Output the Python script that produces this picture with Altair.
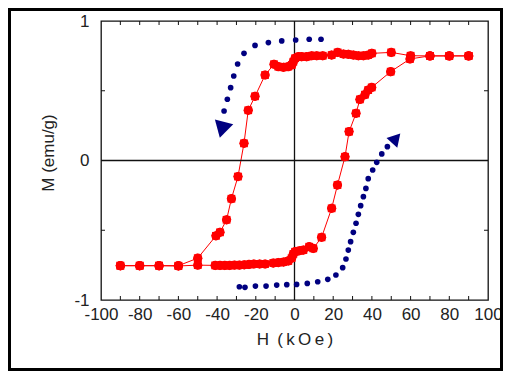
import altair as alt
import pandas as pd

# ---- data ----
desc_x = [90, 80, 70, 60, 50, 40, 38.1, 35.6, 33.0, 30.4, 27.8, 25.3, 22.3, 19.2, 14.6, 11.5, 8.9, 6.3,
          3.7, 2.0, 0.3, -0.6, -1.4, -3.2, -5.7, -8.4, -10.6, -15.2, -20.4, -23.9, -26.1, -29.2, -32.6,
          -35.1, -38.5, -40.6, -50, -60, -70, -80, -90]
desc_y = [0.75, 0.75, 0.75, 0.751, 0.775, 0.768, 0.756, 0.751, 0.751, 0.756, 0.761, 0.763, 0.775, 0.756,
          0.751, 0.751, 0.751, 0.744, 0.744, 0.744, 0.733, 0.708, 0.685, 0.673, 0.668, 0.673, 0.69, 0.613,
          0.46, 0.36, 0.123, -0.115, -0.274, -0.425, -0.515, -0.54, -0.70, -0.754, -0.754, -0.754, -0.754]
asc_x = [-90, -80, -70, -60, -50, -41, -38.5, -36, -33.5, -31, -28.5, -26, -23.5, -21, -18, -15.2, -11,
         -8.4, -5.7, -3.2, -1.5, -0.6, 0.3, 2.5, 4.6, 7.6, 9.7, 14.0, 19.2, 22.2, 26.1, 28.2, 31.8, 33.8,
         36.4, 38.1, 39.9, 49.7, 59.7, 70, 80, 90]
asc_y = [-0.754, -0.754, -0.754, -0.756, -0.75, -0.752, -0.752, -0.752, -0.752, -0.75, -0.75, -0.748,
         -0.745, -0.742, -0.742, -0.742, -0.735, -0.732, -0.728, -0.72, -0.70, -0.67, -0.654, -0.647,
         -0.642, -0.618, -0.63, -0.551, -0.343, -0.176, 0.027, 0.207, 0.338, 0.438, 0.472, 0.505, 0.524,
         0.637, 0.728, 0.75, 0.75, 0.75]

blue_up_x = [13.7, 7.6, 0.6, -6.6, -13.5, -20.4, -26.1, -29.4, -31.4, -33.0, -34.7, -36.4]
blue_up_y = [0.869, 0.869, 0.864, 0.857, 0.845, 0.825, 0.768, 0.692, 0.606, 0.522, 0.439, 0.355]
blue_lo_x = [-28.5, -25.6, -20.2, -14.7, -9.2, -4.0, 1.1, 6.6, 12.0, 17.2, 21.4, 24.9, 26.6, 27.8, 29.0,
             30.4, 31.8, 33.0, 34.2, 35.6, 36.9, 38.1, 40.4, 42.5, 45.1, 48.0]
blue_lo_y = [-0.905, -0.909, -0.9, -0.9, -0.893, -0.89, -0.888, -0.881, -0.869, -0.852, -0.821, -0.768,
             -0.706, -0.642, -0.582, -0.515, -0.45, -0.386, -0.324, -0.259, -0.2, -0.13, -0.068, -0.013,
             0.047, 0.099]

arrow_down = {"H": [-37.5], "M": [0.22]}
arrow_up = {"H": [52.5], "M": [0.16]}

x_ticks = list(range(-90, 100, 10))
y_ticks = [-0.5, 0.5]
x_labels = list(range(-100, 101, 20))
y_labels = [-1, 0, 1]

FONT = "Liberation Sans, Arial, sans-serif"
RED = "#ff0000"
NAVY = "#000080"
W, H = 387, 279

loop = pd.DataFrame({
    "H": desc_x + asc_x,
    "M": desc_y + asc_y,
    "order": list(range(len(desc_x) + len(asc_x))),
})
blue = pd.DataFrame({"H": blue_up_x + blue_lo_x, "M": blue_up_y + blue_lo_y})

xs = alt.Scale(domain=[-100, 100], nice=False, zero=False)
ys = alt.Scale(domain=[-1, 1], nice=False, zero=False)

xaxis = alt.Axis(
    values=x_labels, labelExpr="'' + datum.value", labelOverlap=False, labelFlush=False,
    labelSeparation=0, labelBound=False,
    title="H\u2009 (\u2009k\u2009O\u2009e\u2009)", ticks=False, tickSize=0, grid=False,
    domain=False, labelPadding=6,
    titleX=W / 2, titleY=44.5, titleBaseline="alphabetic", titleAlign="center")
yaxis = alt.Axis(
    values=y_labels, labelExpr="'' + datum.value", labelOverlap=False, labelFlush=False,
    labelBound=False,
    title="M (emu/g)", ticks=False, tickSize=0, grid=False, domain=False, labelPadding=12,
    titleX=-47.5, titleY=131.5, titleAngle=270, titleBaseline="alphabetic", titleAlign="center")


def X():
    return alt.X("H:Q", scale=xs, axis=xaxis)


def Y():
    return alt.Y("M:Q", scale=ys, axis=yaxis)


base_loop = alt.Chart(loop)
line = base_loop.mark_line(color=RED, strokeWidth=1).encode(x=X(), y=Y(), order="order:Q")
pts_c = base_loop.mark_point(shape="circle", filled=True, color=RED, size=85, opacity=1).encode(
    x=X(), y=Y())
pts_s = base_loop.mark_point(shape="square", filled=True, color=RED, size=60, opacity=1).encode(
    x=X(), y=Y())
pts_d = base_loop.mark_point(shape="diamond", filled=True, color=RED, size=90, opacity=1).encode(
    x=X(), y=Y())

dots = alt.Chart(blue).mark_circle(color=NAVY, size=32, opacity=1).encode(x=X(), y=Y())
arr1 = alt.Chart(pd.DataFrame(arrow_down)).mark_point(
    shape="triangle-down", filled=True, color=NAVY, size=360, angle=15, opacity=1).encode(x=X(), y=Y())
arr2 = alt.Chart(pd.DataFrame(arrow_up)).mark_point(
    shape="triangle-up", filled=True, color=NAVY, size=210, angle=42, opacity=1).encode(x=X(), y=Y())

vline = alt.Chart(pd.DataFrame({"H": [0]})).mark_rule(color="#111", strokeWidth=1.3).encode(x=X())
hline = alt.Chart(pd.DataFrame({"M": [0]})).mark_rule(color="#111", strokeWidth=1.3).encode(y=Y())

xt = alt.Chart(pd.DataFrame({"H": x_ticks}))
tb = xt.mark_rule(color="#111", strokeWidth=1).encode(x=X(), y=alt.value(H), y2=alt.value(H - 4))
tt = xt.mark_rule(color="#111", strokeWidth=1).encode(x=X(), y=alt.value(0), y2=alt.value(4))
yt = alt.Chart(pd.DataFrame({"M": y_ticks}))
tl = yt.mark_rule(color="#111", strokeWidth=1).encode(y=Y(), x=alt.value(0), x2=alt.value(4))
tr = yt.mark_rule(color="#111", strokeWidth=1).encode(y=Y(), x=alt.value(W), x2=alt.value(W - 4))

PL, PT, PR, PB = 93, 13, 15, 71
border = alt.Chart(pd.DataFrame({"k": [0]})).mark_rect(
    fillOpacity=0, stroke="black", strokeWidth=3).encode(
    x=alt.value(-PL + 1.5), x2=alt.value(W + PR - 1.5),
    y=alt.value(-PT + 1.5), y2=alt.value(H + PB - 1.5))

chart = alt.layer(
    line, vline, hline, tb, tt, tl, tr, pts_c, pts_s, pts_d, dots, arr1, arr2, border
).properties(
    width=W, height=H,
    autosize=alt.AutoSizeParams(type="none"),
    padding={"left": PL, "top": PT, "right": PR, "bottom": PB},
    background="white",
).configure_view(stroke="#111", strokeWidth=1.3).configure_axis(
    labelFont=FONT, labelFontSize=17, labelColor="#222", labelOverlap=False,
    titleFont=FONT, titleFontSize=17, titleFontWeight="normal", titleColor="#222")

chart.save("out.html", embed_options={"renderer": "svg", "actions": False})
